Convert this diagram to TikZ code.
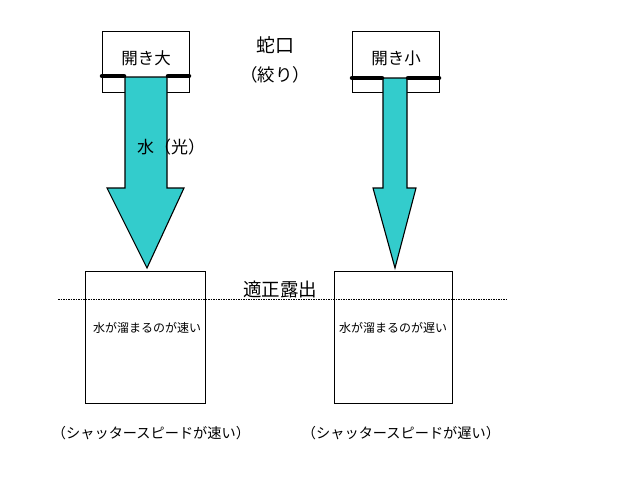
\documentclass[tikz,border=0pt]{standalone}
\usepackage{fontspec}
\setmainfont{Noto Sans CJK JP}
\begin{document}
\begin{tikzpicture}[x=1pt,y=-1pt,
  frame/.style={draw=black,line width=0.8pt,fill=white,inner sep=0pt,outer sep=0pt},
  flow/.style={draw=black,line width=1.1pt,fill=arrowcyan},
  valve/.style={line width=4.5pt,line cap=round,black},
  lbl/.style={inner sep=0pt,text=black}]
\definecolor{arrowcyan}{HTML}{33CCCC}
\useasboundingbox (0,0) rectangle (640,480);
% faucet boxes
\node[frame,minimum width=87pt,minimum height=61pt] (tapL) at (145.5,61.5) {};
\node[frame,minimum width=87pt,minimum height=61pt] (tapR) at (395.5,62) {};
\node[lbl,font=\fontsize{16.5}{16.5}\selectfont] (openL) at (146,58) {開き大};
\node[lbl,font=\fontsize{16.5}{16.5}\selectfont] (openR) at (396,58) {開き小};
% arrows
\path[flow] (125,77) -- (167,77) -- (167,188) -- (184,188) -- (147,268) -- (107,188) -- (125,188) -- cycle;
\path[flow] (383,78) -- (407,78) -- (407,188) -- (416,188) -- (395,268) -- (373,188) -- (383,188) -- cycle;
% valve plates
\coordinate (vL1) at (102,76); \coordinate (vL2) at (124,76);
\coordinate (vL3) at (168,76); \coordinate (vL4) at (189,76);
\coordinate (vR1) at (352,78); \coordinate (vR2) at (382,78);
\coordinate (vR3) at (408,78); \coordinate (vR4) at (439,78);
\draw[valve] (vL1) -- (vL2);
\draw[valve] (vL3) -- (vL4);
\draw[valve] (vR1) -- (vR2);
\draw[valve] (vR3) -- (vR4);
% labels
\node[lbl,font=\fontsize{19}{19}\selectfont] (jaguchi) at (275,45) {蛇口};
\node[lbl,font=\fontsize{17.5}{17.5}\selectfont] (shibori) at (275,75) {（絞り）};
\node[lbl,font=\fontsize{17}{17}\selectfont] (mizu) at (171,147) {水（光）};
% buckets
\node[frame,minimum width=120pt,minimum height=132pt] (boxL) at (145,337) {};
\node[frame,minimum width=118pt,minimum height=132pt] (boxR) at (393,337) {};
\coordinate (dashA) at (58,299);
\coordinate (dashB) at (507,299);
\draw[dashed,line width=0.6pt,dash pattern=on 1.5pt off 1pt] (dashA) -- (dashB);
\node[lbl,font=\fontsize{18.5}{18.5}\selectfont] (tekisei) at (280,289) {適正露出};
\node[lbl,font=\fontsize{12}{12}\selectfont] (fastT) at (147,328) {水が溜まるのが速い};
\node[lbl,font=\fontsize{12}{12}\selectfont] (slowT) at (393,328) {水が溜まるのが遅い};
\node[lbl,font=\fontsize{14.2}{14.2}\selectfont] (fastS) at (151,433) {（シャッタースピードが速い）};
\node[lbl,font=\fontsize{14.2}{14.2}\selectfont] (slowS) at (401,433) {（シャッタースピードが遅い）};
\end{tikzpicture}
\end{document}
